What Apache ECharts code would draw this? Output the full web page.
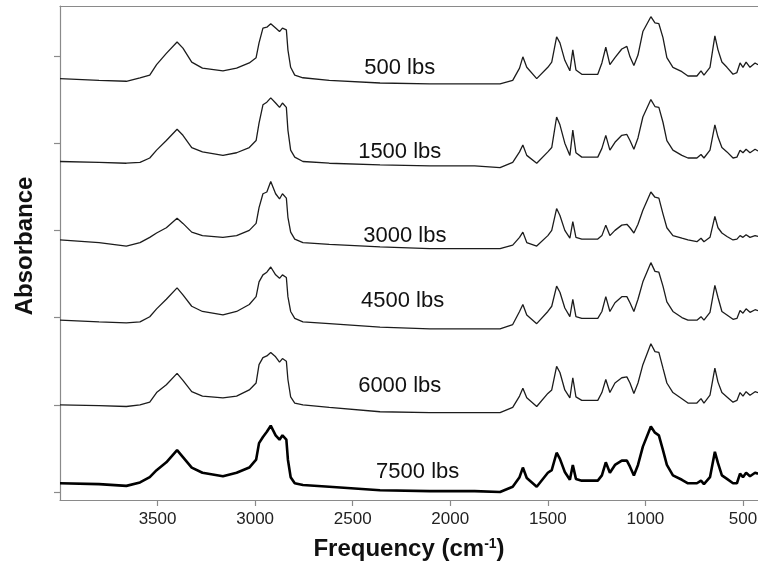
<!DOCTYPE html>
<html><head><meta charset="utf-8">
<script src="https://cdn.jsdelivr.net/npm/echarts@6/dist/echarts.min.js"></script>
<style>html,body{margin:0;padding:0;background:#fff}#c{width:758px;height:566px}</style>
</head><body><div id="c"></div>
<script>
// Wavenumbers (cm-1) sampled along the spectra
const wavenumbers = [4000,3800,3660,3590,3540,3505,3455,3400,3370,3325,3270,3165,3095,3030,2995,2980,2960,2940,2920,2895,2875,2860,2840,2832,2818,2797,2755,2620,2360,2105,1875,1745,1680,1645,1628,1608,1557,1500,1480,1455,1438,1413,1387,1372,1356,1326,1244,1223,1203,1182,1156,1121,1095,1079,1059,1038,1013,972,951,931,910,890,859,813,782,736,715,700,669,644,628,608,582,551,531,515,500,484,464,438,423];

// Absorbance (a.u.) of each spectrum, relative to its own stacking offset
const abs7500 = [0.10,0.09,0.07,0.11,0.17,0.25,0.34,0.48,0.40,0.28,0.22,0.18,0.22,0.28,0.37,0.56,0.63,0.69,0.76,0.65,0.60,0.65,0.60,0.37,0.17,0.10,0.08,0.06,0.02,0.01,0.01,0.00,0.06,0.17,0.28,0.16,0.06,0.22,0.25,0.45,0.38,0.23,0.14,0.31,0.15,0.13,0.13,0.19,0.34,0.22,0.31,0.36,0.36,0.29,0.19,0.31,0.52,0.75,0.68,0.65,0.48,0.31,0.19,0.14,0.10,0.10,0.13,0.09,0.17,0.46,0.33,0.19,0.15,0.10,0.10,0.21,0.17,0.22,0.18,0.22,0.21];
const abs6000 = [0.00,-0.01,-0.02,0.00,0.03,0.14,0.23,0.36,0.28,0.15,0.10,0.08,0.10,0.17,0.25,0.46,0.54,0.56,0.60,0.55,0.49,0.53,0.50,0.29,0.09,0.02,0.00,-0.03,-0.08,-0.09,-0.09,-0.09,-0.03,0.10,0.19,0.08,-0.02,0.13,0.17,0.44,0.37,0.17,0.08,0.31,0.09,0.05,0.05,0.14,0.29,0.14,0.25,0.31,0.32,0.25,0.13,0.25,0.46,0.70,0.61,0.60,0.42,0.25,0.14,0.07,0.02,0.02,0.07,0.02,0.11,0.42,0.26,0.14,0.09,0.03,0.05,0.14,0.10,0.15,0.11,0.15,0.14];
const abs4500 = [-0.03,-0.05,-0.06,-0.05,0.01,0.10,0.21,0.34,0.26,0.13,0.07,0.03,0.07,0.15,0.24,0.41,0.49,0.52,0.58,0.49,0.45,0.49,0.46,0.24,0.07,-0.01,-0.05,-0.07,-0.11,-0.13,-0.13,-0.13,-0.08,0.07,0.15,0.03,-0.07,0.07,0.13,0.36,0.29,0.11,0.01,0.21,0.01,-0.01,-0.01,0.07,0.24,0.07,0.17,0.24,0.24,0.17,0.07,0.21,0.41,0.63,0.53,0.52,0.36,0.18,0.07,0.00,-0.03,-0.03,0.01,-0.03,0.06,0.37,0.23,0.07,0.03,-0.02,-0.01,0.08,0.05,0.10,0.06,0.09,0.08];
const abs3000 = [-0.11,-0.14,-0.18,-0.14,-0.08,-0.03,0.03,0.14,0.08,-0.02,-0.06,-0.08,-0.06,0.00,0.08,0.26,0.42,0.44,0.56,0.42,0.36,0.42,0.37,0.15,-0.02,-0.10,-0.14,-0.16,-0.19,-0.21,-0.21,-0.21,-0.17,-0.08,-0.02,-0.14,-0.18,-0.06,0.00,0.25,0.17,0.00,-0.09,0.10,-0.08,-0.10,-0.10,-0.06,0.06,-0.06,0.00,0.06,0.07,0.03,-0.03,0.07,0.23,0.44,0.38,0.37,0.19,0.03,-0.06,-0.09,-0.11,-0.13,-0.09,-0.13,-0.08,0.16,0.03,-0.03,-0.07,-0.11,-0.10,-0.06,-0.08,-0.05,-0.08,-0.06,-0.07];
const abs1500 = [-0.21,-0.22,-0.23,-0.22,-0.17,-0.08,0.03,0.16,0.09,-0.05,-0.10,-0.14,-0.11,-0.05,0.03,0.23,0.44,0.47,0.52,0.46,0.41,0.46,0.41,0.15,-0.08,-0.16,-0.21,-0.23,-0.25,-0.26,-0.26,-0.28,-0.22,-0.10,-0.02,-0.14,-0.23,-0.10,-0.05,0.30,0.21,0.00,-0.14,0.15,-0.11,-0.16,-0.16,-0.06,0.09,-0.08,0.01,0.09,0.10,0.03,-0.07,0.06,0.30,0.50,0.42,0.41,0.24,0.03,-0.08,-0.14,-0.17,-0.17,-0.13,-0.17,-0.08,0.21,0.07,-0.05,-0.10,-0.17,-0.16,-0.08,-0.11,-0.07,-0.11,-0.07,-0.09];
const abs500 = [-0.26,-0.28,-0.29,-0.25,-0.22,-0.10,0.03,0.16,0.09,-0.07,-0.14,-0.17,-0.14,-0.08,-0.02,0.15,0.32,0.33,0.37,0.32,0.28,0.32,0.30,0.07,-0.13,-0.22,-0.25,-0.28,-0.31,-0.32,-0.32,-0.32,-0.28,-0.14,-0.01,-0.13,-0.26,-0.13,-0.07,0.22,0.15,-0.05,-0.17,0.07,-0.16,-0.21,-0.21,-0.08,0.10,-0.10,-0.02,0.08,0.11,-0.01,-0.11,0.01,0.28,0.45,0.38,0.37,0.21,-0.02,-0.13,-0.18,-0.23,-0.23,-0.17,-0.22,-0.13,0.23,0.07,-0.07,-0.13,-0.21,-0.19,-0.08,-0.13,-0.07,-0.13,-0.08,-0.10];

const seriesNames = ['7500 lbs','6000 lbs','4500 lbs','3000 lbs','1500 lbs','500 lbs'];
const stackOffsets = [0,1,2,3,4,5];
const xTickValues = [3500,3000,2500,2000,1500,1000,500];
const yTickValues = [0,1,2,3,4,5];

const spectra = [abs7500, abs6000, abs4500, abs3000, abs1500, abs500];
// annotation anchors (wavenumber, stacked absorbance)
const labelAnchors = [[2167,0.23],[2259,1.22],[2244,2.19],[2233,2.94],[2259,3.90],[2259,4.86]];

const FONT = '"Liberation Sans", Arial, sans-serif';
const chart = echarts.init(document.getElementById('c'), null, {renderer:'canvas'});

const series = spectra.map((vals, i) => ({
  name: seriesNames[i],
  type: 'line',
  xAxisIndex: 0,
  data: wavenumbers.map((w, j) => [w, vals[j] + stackOffsets[i]]),
  showSymbol: false,
  symbol: 'none',
  animation: false,
  lineStyle: { color: i === 0 ? '#000' : '#1c1c1c', width: i === 0 ? 2.6 : 1.3 },
  markPoint: {
    silent: true,
    symbol: 'circle',
    symbolSize: 1,
    itemStyle: { color: 'rgba(0,0,0,0)' },
    label: { show: true, position: 'inside', formatter: seriesNames[i], color: '#111', fontSize: 22, fontFamily: FONT },
    data: [{ coord: labelAnchors[i] }]
  }
}));

chart.setOption({
  animation: false,
  backgroundColor: '#fff',
  grid: { left: 60, top: 6, width: 698, height: 494, containLabel: false, outerBoundsMode: 'none' },
  xAxis: [{
    type: 'value', inverse: true, min: 423, max: 4000, position: 'bottom',
    axisLine: { show: true, onZero: false, lineStyle: { color: '#8a8a8a', width: 1.2 } },
    axisTick: { show: true, customValues: xTickValues, length: 6, inside: false, lineStyle: { color: '#8a8a8a', width: 1.2 } },
    axisLabel: { show: true, customValues: xTickValues, formatter: v => String(v), color: '#222', fontSize: 17, fontFamily: FONT, margin: 11 },
    splitLine: { show: false },
    name: 'Frequency (cm{sup|-1})',
    nameLocation: 'middle', nameGap: 37,
    nameTextStyle: { fontSize: 24, fontWeight: 'bold', color: '#111', fontFamily: FONT,
      rich: { sup: { fontSize: 14, fontWeight: 'bold', color: '#111', fontFamily: FONT, padding: [0,0,10,0] } } }
  }, {
    type: 'value', inverse: true, min: 423, max: 4000, position: 'top',
    axisLine: { show: true, onZero: false, lineStyle: { color: '#8a8a8a', width: 1.2 } },
    axisTick: { show: false }, axisLabel: { show: false }, splitLine: { show: false }
  }],
  yAxis: {
    type: 'value', min: -0.092, max: 5.573,
    axisLine: { show: true, onZero: false, lineStyle: { color: '#8a8a8a', width: 1.2 } },
    axisTick: { show: true, customValues: yTickValues, length: 6, inside: false, lineStyle: { color: '#8a8a8a', width: 1.2 } },
    axisLabel: { show: false },
    splitLine: { show: false },
    name: 'Absorbance', nameLocation: 'middle', nameGap: 23, nameRotate: 90,
    nameTextStyle: { fontSize: 24, fontWeight: 'bold', color: '#111', fontFamily: FONT, padding: [0,0,0,14] }
  },
  series: series
});
</script></body></html>
